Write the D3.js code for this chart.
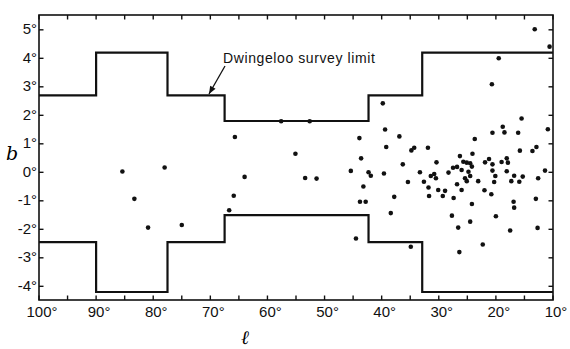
<!DOCTYPE html>
<html>

<head>
    <script type="text/javascript" src="https://cdnjs.cloudflare.com/ajax/libs/d3/7.8.5/d3.min.js"></script>
    <style>
        body {
            margin: 0;
            background: #fff;
        }

        svg {
            display: block;
        }

        .tick-label {
            font-family: "Liberation Sans", Arial, sans-serif;
            font-size: 15px;
            fill: #111;
        }

        .limit {
            fill: none;
            stroke: #111;
            stroke-width: 2.2px;
        }
    </style>
</head>

<body>
    <div id="container"></div>

    <script>
        // galactic longitude / latitude of the sources (degrees)
        var lon = [85.4, 78.0, 83.3, 80.9, 75.0, 65.7, 64.0, 65.9, 66.7, 57.6,
            52.6, 55.1, 53.4, 51.4, 43.9, 43.6, 45.4, 42.3, 41.9, 43.8,
            42.8, 43.2, 44.5, 39.8, 39.4, 36.9, 39.2, 34.8, 34.3, 31.9,
            36.3, 30.4, 39.6, 33.3, 31.4, 30.8, 30.5, 35.4, 32.6, 31.8,
            30.1, 37.8, 31.7, 38.4, 34.9, 13.2, 10.6, 19.5, 20.7, 15.5,
            18.8, 18.5, 20.6, 16.1, 10.9, 23.7, 15.8, 13.6, 12.9, 26.3,
            24.1, 25.7, 25.1, 24.5, 24.2, 21.9, 21.2, 20.6, 19.0, 18.1,
            17.9, 27.5, 26.8, 26.0, 28.3, 20.6, 20.1, 18.1, 16.8, 15.3,
            12.6, 11.4, 24.8, 24.5, 25.4, 26.8, 25.1, 23.1, 20.3, 17.3,
            15.9, 28.9, 29.3, 26.0, 22.0, 20.8, 27.4, 24.2, 16.9, 16.8,
            13.0, 27.7, 24.5, 20.0, 26.6, 17.5, 12.7, 22.3, 26.4
        ];
        var lat = [0.03, 0.17, -0.93, -1.94, -1.85, 1.24, -0.16, -0.82, -1.33, 1.79,
            1.79, 0.65, -0.20, -0.22, 1.20, 0.49, 0.05, 0.00, -0.12, -1.03,
            -1.03, -0.50, -2.32, 2.42, 1.50, 1.26, 0.89, 0.77, 0.86, 0.86,
            0.28, 0.35, -0.04, 0.00, -0.13, -0.06, -0.21, -0.34, -0.33, -0.53,
            -0.62, -0.86, -0.83, -1.43, -2.61, 5.02, 4.41, 4.00, 3.09, 1.89,
            1.60, 1.40, 1.39, 1.39, 1.51, 1.17, 0.76, 0.75, 0.89, 0.57,
            0.65, 0.37, 0.34, 0.32, 0.20, 0.35, 0.47, 0.28, 0.36, 0.49,
            0.34, 0.16, 0.19, 0.08, -0.01, 0.06, -0.13, 0.04, -0.12, -0.15,
            -0.21, 0.06, 0.02, -0.13, -0.21, -0.42, -0.31, -0.31, -0.34, -0.31,
            -0.33, -0.65, -0.83, -0.62, -0.63, -0.77, -0.90, -1.11, -1.03, -1.24,
            -0.93, -1.52, -1.73, -1.54, -1.94, -2.04, -1.95, -2.53, -2.80
        ];

        // survey limit: longitude breaks and the upper / lower latitude of each step
        var limitLon = [100, 90, 77.5, 67.5, 42.3, 32.9, 10];
        var limitUpper = [2.7, 4.2, 2.7, 1.8, 2.7, 4.2, 4.2];
        var limitLower = [-2.45, -4.2, -2.45, -1.5, -2.45, -4.2, -4.2];

        // tick labels
        var xTicks = [100, 90, 80, 70, 60, 50, 40, 30, 20, 10];
        var xMinor = d3.range(100, 9, -5);
        var yTicks = [5, 4, 3, 2, 1, 0, -1, -2, -3, -4];

        var W = 570,
            H = 349;
        var plotLeft = 39,
            plotRight = 553,
            plotTop = 15,
            plotBottom = 300;

        var x = d3.scaleLinear().domain([100, 10]).range([plotLeft, plotRight]);
        var y = d3.scaleLinear().domain([-4.48, 5.52]).range([plotBottom, plotTop]);

        var svg = d3.select("#container").append("svg")
            .attr("width", W)
            .attr("height", H);

        // frame
        svg.append("rect")
            .attr("x", plotLeft)
            .attr("y", plotTop)
            .attr("width", plotRight - plotLeft)
            .attr("height", plotBottom - plotTop)
            .style("fill", "none")
            .style("stroke", "#111")
            .style("stroke-width", 1.6);

        // inward ticks, top and bottom
        var tk = 4.5;
        xMinor.forEach(function(v) {
            svg.append("line")
                .attr("x1", x(v)).attr("x2", x(v))
                .attr("y1", plotBottom).attr("y2", plotBottom - tk)
                .style("stroke", "#111").style("stroke-width", 1.4);
            svg.append("line")
                .attr("x1", x(v)).attr("x2", x(v))
                .attr("y1", plotTop).attr("y2", plotTop + tk)
                .style("stroke", "#111").style("stroke-width", 1.4);
        });
        // inward ticks, left and right
        yTicks.forEach(function(v) {
            svg.append("line")
                .attr("x1", plotLeft).attr("x2", plotLeft + tk)
                .attr("y1", y(v)).attr("y2", y(v))
                .style("stroke", "#111").style("stroke-width", 1.4);
            svg.append("line")
                .attr("x1", plotRight).attr("x2", plotRight - tk)
                .attr("y1", y(v)).attr("y2", y(v))
                .style("stroke", "#111").style("stroke-width", 1.4);
        });

        // tick labels
        svg.selectAll(".xl").data(xTicks).enter().append("text")
            .attr("class", "tick-label")
            .attr("x", function(d) { return x(d) + 3; })
            .attr("y", 317)
            .style("text-anchor", "middle")
            .text(function(d) { return d + "°"; });

        svg.selectAll(".yl").data(yTicks).enter().append("text")
            .attr("class", "tick-label")
            .attr("x", 37)
            .attr("y", function(d) { return y(d) + 4.5; })
            .style("text-anchor", "end")
            .text(function(d) { return d + "°"; });

        // axis titles
        svg.append("text")
            .attr("x", 12)
            .attr("y", 160)
            .style("text-anchor", "middle")
            .style("font", "italic 19px 'DejaVu Serif', serif")
            .text("b");

        svg.append("text")
            .attr("x", 245)
            .attr("y", 344)
            .style("text-anchor", "middle")
            .style("font", "italic 19px 'DejaVu Serif', serif")
            .text("ℓ");

        // survey limit steps
        var upperData = limitLon.map(function(l, i) { return [l, limitUpper[i]]; });
        var lowerData = limitLon.map(function(l, i) { return [l, limitLower[i]]; });

        var step = d3.line()
            .x(function(d) { return x(d[0]); })
            .y(function(d) { return y(d[1]); })
            .curve(d3.curveStepAfter);

        svg.append("path").datum(upperData).attr("class", "limit").attr("d", step);
        svg.append("path").datum(lowerData).attr("class", "limit").attr("d", step);

        // label + arrow
        svg.append("defs").append("marker")
            .attr("id", "arrow")
            .attr("viewBox", "0 0 10 10")
            .attr("refX", 10)
            .attr("refY", 5)
            .attr("markerWidth", 7)
            .attr("markerHeight", 6)
            .attr("orient", "auto")
            .append("path")
            .attr("d", "M0,1L10,5L0,9z")
            .style("fill", "#111");

        svg.append("line")
            .attr("x1", 225).attr("y1", 66)
            .attr("x2", 209).attr("y2", 94)
            .style("stroke", "#111")
            .style("stroke-width", 1.3)
            .attr("marker-end", "url(#arrow)");

        svg.append("text")
            .attr("x", 223)
            .attr("y", 63)
            .style("font", "14px 'Liberation Sans', Arial, sans-serif")
            .style("letter-spacing", "0.6px")
            .style("fill", "#111")
            .text("Dwingeloo survey limit");

        // sources
        svg.selectAll(".dot").data(lon).enter().append("circle")
            .attr("cx", function(d) { return x(d); })
            .attr("cy", function(d, i) { return y(lat[i]); })
            .attr("r", 2.3)
            .style("fill", "#111");
    </script>
</body>

</html>
